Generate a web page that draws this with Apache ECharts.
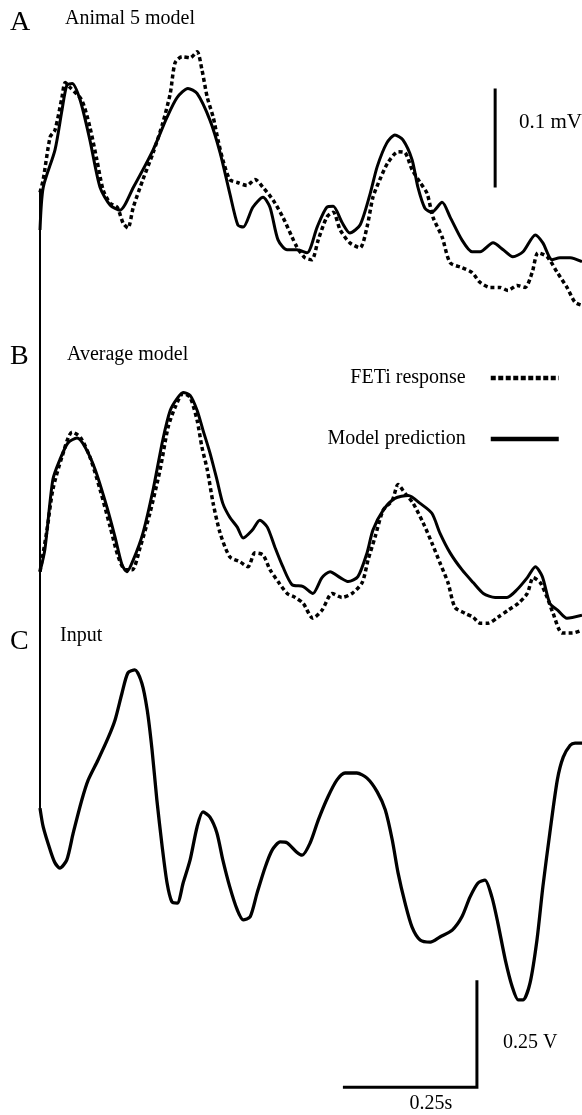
<!DOCTYPE html>
<html>
<head>
<meta charset="utf-8">
<script src="https://cdn.jsdelivr.net/npm/echarts@6/dist/echarts.min.js"></script>
<style>
  html, body { margin: 0; padding: 0; background: #fff; }
  #chart { width: 582px; height: 1115px; }
</style>
</head>
<body>
<div id="chart"></div>
<script>
// time in ms, panel A/B in µV, panel C in V
const aResp = [[0,139],[6,152],[19,195],[28,202],[41,235],[47,250],[56,245],[78,232],[93,205],[106,172],[118,141],[131,128],[144,124],[155,108],[164,103],[174,124],[192,152],[211,179],[229,209],[243,239],[252,270],[265,276],[280,275],[293,281],[302,263],[312,235],[323,215],[332,192],[341,172],[354,152],[368,149],[386,146],[401,152],[416,144],[435,131],[453,114],[470,94],[479,84],[494,73],[507,71],[519,91],[535,114],[547,119],[560,101],[578,88],[597,83],[610,104],[621,134],[634,152],[649,169],[668,180],[681,179],[694,162],[709,149],[722,138],[733,114],[750,94],[765,68],[787,63],[806,58],[821,48],[840,43],[858,43],[873,40],[890,45],[905,43],[918,58],[929,78],[946,74],[965,58],[983,43],[998,28],[1011,25]];
const aPred = [[0,101],[6,144],[28,182],[41,222],[50,247],[60,249],[75,232],[93,192],[112,144],[131,126],[149,121],[174,144],[211,182],[237,215],[256,235],[276,244],[293,239],[317,212],[336,179],[354,138],[369,106],[379,104],[397,124],[416,134],[429,124],[444,91],[461,81],[479,81],[498,78],[517,104],[535,124],[547,125],[563,109],[578,98],[597,106],[616,138],[629,165],[647,189],[662,197],[677,192],[694,172],[705,144],[718,123],[731,119],[750,129],[765,114],[787,91],[806,79],[821,79],[845,88],[864,81],[882,74],[901,79],[924,96],[938,88],[955,71],[970,73],[989,73],[1011,69]];
const bResp = [[0,69],[13,111],[24,152],[41,185],[60,210],[75,205],[93,185],[112,152],[131,114],[146,84],[159,71],[172,71],[187,94],[205,128],[224,172],[239,215],[252,235],[267,249],[280,245],[293,222],[302,195],[312,172],[323,138],[336,108],[354,84],[373,79],[388,74],[401,88],[416,86],[429,71],[444,59],[461,47],[476,43],[491,37],[509,22],[526,30],[545,47],[563,43],[582,47],[601,58],[612,81],[625,104],[640,131],[657,141],[668,157],[681,148],[696,138],[715,118],[731,98],[746,78],[761,58],[774,33],[793,27],[808,23],[821,17],[836,17],[854,23],[873,30],[892,37],[909,47],[920,63],[933,58],[946,43],[957,27],[974,7],[993,7],[1011,10]];
const bPred = [[0,69],[9,91],[24,162],[37,182],[52,199],[69,204],[84,195],[103,172],[125,134],[140,104],[153,76],[162,69],[174,81],[192,108],[211,152],[229,202],[243,232],[256,244],[267,250],[280,247],[293,232],[304,212],[317,189],[330,162],[341,138],[354,124],[368,114],[379,103],[396,111],[410,121],[424,114],[438,94],[453,74],[470,56],[491,54],[509,47],[526,63],[541,69],[560,63],[575,59],[593,64],[610,88],[621,111],[640,131],[662,143],[687,146],[709,138],[731,128],[746,108],[765,88],[787,71],[808,58],[827,47],[849,43],[871,43],[890,51],[909,63],[924,74],[937,64],[951,37],[966,30],[983,22],[1011,25]];
const cInput = [[0,0.717],[6,0.673],[19,0.619],[28,0.589],[37,0.577],[50,0.596],[62,0.659],[78,0.736],[90,0.783],[108,0.829],[127,0.881],[140,0.923],[153,0.986],[164,1.033],[177,1.040],[190,1.009],[200,0.946],[209,0.853],[218,0.736],[228,0.626],[237,0.542],[246,0.498],[256,0.495],[267,0.542],[280,0.596],[293,0.673],[304,0.708],[317,0.696],[330,0.659],[341,0.596],[354,0.533],[368,0.479],[379,0.456],[392,0.463],[405,0.519],[420,0.579],[433,0.619],[448,0.638],[461,0.636],[479,0.614],[489,0.607],[504,0.636],[519,0.689],[537,0.743],[554,0.783],[569,0.799],[591,0.799],[610,0.787],[629,0.755],[644,0.713],[657,0.643],[668,0.565],[681,0.495],[694,0.439],[709,0.409],[728,0.404],[746,0.416],[769,0.432],[787,0.463],[802,0.509],[817,0.542],[830,0.549],[843,0.509],[854,0.449],[868,0.362],[881,0.299],[892,0.269],[901,0.269],[914,0.308],[927,0.409],[938,0.533],[951,0.659],[965,0.783],[976,0.836],[989,0.864],[998,0.869],[1011,0.869]];

// scale bars: 0.1 mV (100 µV), 0.25 V, 0.25 s (250 ms)
const barA = [[849,144],[849,244]];
const barC = [[565,0.065],[815,0.065],[815,0.315]];

const serif = 'Liberation Serif';
const dots = [4, 3];

const chart = echarts.init(document.getElementById('chart'));

function trace(name, data, idx, dotted, width) {
  return {
    name: name,
    type: 'line',
    xAxisIndex: idx,
    yAxisIndex: idx,
    data: data,
    symbol: 'none',
    smooth: 0.25,
    silent: true,
    itemStyle: { color: '#000' },
    lineStyle: { color: '#000', width: width, type: dotted ? dots : 'solid', cap: 'butt', join: 'round' }
  };
}

function bar(data, idx) {
  return {
    type: 'line', xAxisIndex: idx, yAxisIndex: idx, data: data,
    symbol: 'none', silent: true,
    lineStyle: { color: '#000', width: 3, join: 'miter' }
  };
}

const hidden = { show: false };
function xAx(i) { return { type: 'value', gridIndex: i, min: 0, max: 1011, show: false }; }

chart.setOption({
  animation: false,
  grid: [
    { left: 40, top: 0, width: 542, height: 330 },
    { left: 40, top: 330, width: 542, height: 310 },
    { left: 40, top: 640, width: 542, height: 475 },
    { left: 40, top: 190, width: 542, height: 618 }
  ],
  xAxis: [xAx(0), xAx(1), xAx(2), xAx(3)],
  yAxis: [
    { type: 'value', gridIndex: 0, min: 0, max: 333.3, show: false },
    { type: 'value', gridIndex: 1, min: 0, max: 313.1, show: false },
    { type: 'value', gridIndex: 2, min: 0, max: 1.1098, show: false },
    { type: 'value', gridIndex: 3, min: 0, max: 1,
      axisLine: { show: true, lineStyle: { color: '#000', width: 2 } },
      axisTick: hidden, axisLabel: hidden, splitLine: hidden }
  ],
  legend: {
    data: [
      { name: 'FETi response', lineStyle: { width: 4.5, type: [5, 2.5] } },
      { name: 'Model prediction', lineStyle: { width: 4.5 } }
    ],
    orient: 'vertical', align: 'right', right: 21, top: 368, padding: 0,
    itemWidth: 68, itemHeight: 20, itemGap: 41, selectedMode: false,
    itemStyle: { opacity: 0 },
    textStyle: { fontFamily: serif, fontSize: 20, color: '#000', padding: [0, 20, 0, 0] }
  },
  graphic: [
    { type: 'text', x: 10, y: 23, style: { text: 'A', font: '28px "Liberation Serif"', fill: '#000', verticalAlign: 'middle' } },
    { type: 'text', x: 10, y: 357, style: { text: 'B', font: '28px "Liberation Serif"', fill: '#000', verticalAlign: 'middle' } },
    { type: 'text', x: 10, y: 642, style: { text: 'C', font: '28px "Liberation Serif"', fill: '#000', verticalAlign: 'middle' } },
    { type: 'text', x: 65, y: 19, style: { text: 'Animal 5 model', font: '20px "Liberation Serif"', fill: '#000', verticalAlign: 'middle' } },
    { type: 'text', x: 67, y: 355, style: { text: 'Average model', font: '20px "Liberation Serif"', fill: '#000', verticalAlign: 'middle' } },
    { type: 'text', x: 60, y: 636, style: { text: 'Input', font: '20px "Liberation Serif"', fill: '#000', verticalAlign: 'middle' } },
    { type: 'text', x: 519, y: 122, style: { text: '0.1 mV', font: '21px "Liberation Serif"', fill: '#000', verticalAlign: 'middle' } },
    { type: 'text', x: 503, y: 1043, style: { text: '0.25 V', font: '20px "Liberation Serif"', fill: '#000', verticalAlign: 'middle' } },
    { type: 'text', x: 431, y: 1104, style: { text: '0.25s', font: '20px "Liberation Serif"', fill: '#000', align: 'center', verticalAlign: 'middle' } }
  ],
  series: [
    trace('FETi response', aResp, 0, true, 3.5),
    trace('Model prediction', aPred, 0, false, 3),
    trace('FETi response', bResp, 1, true, 3.5),
    trace('Model prediction', bPred, 1, false, 3),
    trace('Input', cInput, 2, false, 3.3),
    bar(barA, 0),
    bar(barC, 2)
  ]
});
</script>
</body>
</html>
